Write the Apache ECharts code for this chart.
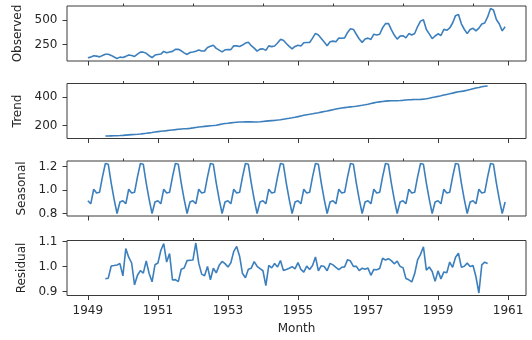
<!DOCTYPE html>
<html>
<head>
<meta charset="utf-8">
<script src="https://cdn.jsdelivr.net/npm/echarts@6/dist/echarts.min.js"></script>
<style>
  html, body { margin: 0; padding: 0; background: #fff; }
  #chart { width: 532px; height: 340px; }
</style>
</head>
<body>
<div id="chart"></div>
<script>
// Monthly airline passengers (thousands), Jan 1949 – Dec 1960
const firstYear = 1949;
const observed = [
  112, 118, 132, 129, 121, 135, 148, 148, 136, 119, 104, 118,
  115, 126, 141, 135, 125, 149, 170, 170, 158, 133, 114, 140,
  145, 150, 178, 163, 172, 178, 199, 199, 184, 162, 146, 166,
  171, 180, 193, 181, 183, 218, 230, 242, 209, 191, 172, 194,
  196, 196, 236, 235, 229, 243, 264, 272, 237, 211, 180, 201,
  204, 188, 235, 227, 234, 264, 302, 293, 259, 229, 203, 229,
  242, 233, 267, 269, 270, 315, 364, 347, 312, 274, 237, 278,
  284, 277, 317, 313, 318, 374, 413, 405, 355, 306, 271, 306,
  315, 301, 356, 348, 355, 422, 465, 467, 404, 347, 305, 336,
  340, 318, 362, 348, 363, 435, 491, 505, 404, 359, 310, 337,
  360, 342, 406, 396, 420, 472, 548, 559, 463, 407, 362, 405,
  417, 391, 419, 461, 472, 535, 622, 606, 508, 461, 390, 432
];

// Centred 2x12 moving average: defined from Jul 1949 to Jun 1960
const trendStart = 6;
const trend = [
  126.792, 127.250, 127.958, 128.583, 129.000, 129.750,
  131.250, 133.083, 134.917, 136.417, 137.417, 138.750, 140.917, 143.167, 145.708, 148.417, 151.542, 154.708,
  157.125, 159.542, 161.833, 164.125, 166.667, 169.083, 171.250, 173.583, 175.458, 176.833, 178.042, 180.167,
  183.125, 186.208, 189.042, 191.292, 193.583, 195.833, 198.042, 199.750, 202.208, 206.250, 210.417, 213.375,
  215.833, 218.500, 220.917, 222.917, 224.083, 224.708, 225.333, 225.333, 224.958, 224.583, 224.458, 225.542,
  228.000, 230.458, 232.250, 233.917, 235.625, 237.750, 240.500, 243.958, 247.167, 250.250, 253.500, 257.125,
  261.833, 266.667, 271.125, 275.208, 278.500, 281.958, 285.750, 289.333, 293.250, 297.167, 301.000, 305.458,
  309.958, 314.417, 318.625, 321.750, 324.500, 327.083, 329.542, 331.833, 334.458, 337.542, 340.542, 344.083,
  348.250, 353.000, 357.625, 361.375, 364.500, 367.167, 369.458, 371.208, 372.167, 372.417, 372.750, 373.625,
  375.250, 377.917, 379.500, 380.000, 380.708, 380.958, 381.833, 383.667, 386.500, 390.333, 394.708, 398.625,
  402.542, 407.167, 411.875, 416.333, 420.500, 425.500, 430.708, 435.125, 437.708, 440.958, 445.833, 450.625,
  456.333, 461.375, 465.208, 469.333, 472.750, 475.042
];

// Multiplicative seasonal factors, Jan..Dec (repeat every year)
const seasonalFactors = [
  0.910230, 0.883625, 1.007366, 0.975906, 0.981378, 1.112776,
  1.226556, 1.219911, 1.060492, 0.921757, 0.801178, 0.898824
];

// Residual component, same span as the trend
const residual = [
  0.9517, 0.9534, 1.0022, 1.0040, 1.0063, 1.0118,
  0.9626, 1.0715, 1.0374, 1.0140, 0.9269, 0.9650, 0.9836, 0.9734, 1.0225, 0.9722, 0.9390, 1.0068,
  1.0138, 1.0640, 1.0919, 1.0177, 1.0516, 0.9460, 0.9474, 0.9398, 0.9889, 0.9939, 1.0235, 1.0251,
  1.0259, 1.0940, 1.0135, 0.9696, 0.9633, 1.0004, 0.9469, 0.9931, 0.9746, 1.0047, 1.0203, 1.0115,
  0.9977, 1.0152, 1.0605, 1.0802, 1.0413, 0.9718, 0.9552, 0.9895, 0.9934, 1.0193, 1.0009, 0.9915,
  0.9830, 0.9232, 1.0044, 0.9944, 1.0119, 0.9979, 1.0238, 0.9845, 0.9881, 0.9928, 0.9995, 0.9909,
  1.0154, 0.9888, 0.9776, 1.0016, 0.9879, 1.0040, 1.0385, 0.9831, 1.0033, 1.0003, 0.9828, 1.0126,
  1.0066, 0.9970, 0.9876, 0.9968, 0.9986, 1.0276, 1.0218, 1.0005, 1.0009, 0.9835, 0.9933, 0.9894,
  0.9937, 0.9650, 0.9882, 0.9868, 0.9924, 1.0329, 1.0261, 1.0313, 1.0236, 1.0109, 1.0213, 1.0005,
  0.9954, 0.9523, 0.9469, 0.9384, 0.9716, 1.0261, 1.0484, 1.0790, 0.9857, 0.9978, 0.9803, 0.9406,
  0.9825, 0.9506, 0.9785, 0.9746, 1.0178, 0.9969, 1.0373, 1.0531, 0.9974, 1.0013, 1.0135, 0.9999,
  1.0039, 0.9591, 0.8941, 1.0065, 1.0174, 1.0121
];

// Axis ticks
const yearTicks = [1949, 1951, 1953, 1955, 1957, 1959, 1961];
const yearMinorTicks = [1950, 1952, 1954, 1956, 1958, 1960];
const panelNames = ['Observed', 'Trend', 'Seasonal', 'Residual'];
const observedTicks = [250, 500];
const trendTicks = [200, 400];
const seasonalTicks = [0.8, 1.0, 1.2];
const residualTicks = [0.9, 1.0, 1.1];

// ---- build series as [decimal year, value] pairs ----
const monthPos = i => firstYear + i / 12;
const observedPts = observed.map((v, i) => [monthPos(i), v]);
const trendPts = trend.map((v, i) => [monthPos(i + trendStart), v]);
const seasonalPts = observed.map((_, i) => [monthPos(i), seasonalFactors[i % 12]]);
const residualPts = residual.map((v, i) => [monthPos(i + trendStart), v]);

const panels = [
  { data: observedPts, ticks: observedTicks, fmt: v => String(v) },
  { data: trendPts, ticks: trendTicks, fmt: v => String(v) },
  { data: seasonalPts, ticks: seasonalTicks, fmt: v => v.toFixed(1) },
  { data: residualPts, ticks: residualTicks, fmt: v => v.toFixed(1) }
];

// 5% padding around the data, shared x range
function padded(lo, hi) { const m = (hi - lo) * 0.05; return [lo - m, hi + m]; }
const [xMin, xMax] = padded(monthPos(0), monthPos(observed.length - 1));

const FONT = 'DejaVu Sans';
const TEXT = '#262626';
const FRAME = '#3a3a3a';
const LINE = '#3c7fbd';
const tops = [6, 83.5, 161, 240.5];
const PANEL_H = 55;

const grid = [], xAxis = [], yAxis = [], series = [];
panels.forEach((p, i) => {
  const vals = p.data.map(d => d[1]);
  const [yMin, yMax] = padded(Math.min(...vals), Math.max(...vals));
  grid.push({ left: 67, right: 6, top: tops[i], height: PANEL_H, show: true,
              borderColor: FRAME, borderWidth: 1, backgroundColor: 'transparent' });
  const last = i === panels.length - 1;
  xAxis.push({
    type: 'value', gridIndex: i, min: xMin, max: xMax,
    axisLine: { show: false }, splitLine: { show: false },
    axisTick: { show: true, length: 4.5, customValues: yearTicks, lineStyle: { color: FRAME } },
    axisLabel: { show: last, customValues: yearTicks, margin: 9, fontSize: 12,
                 fontFamily: FONT, color: TEXT, formatter: v => String(v) },
    name: last ? 'Month' : '', nameLocation: 'middle', nameGap: 27,
    nameTextStyle: { fontSize: 12, fontFamily: FONT, color: TEXT }
  });
  xAxis.push({
    type: 'value', gridIndex: i, min: xMin, max: xMax,
    axisLine: { show: false }, splitLine: { show: false },
    axisTick: { show: true, length: 2.5, customValues: yearMinorTicks, lineStyle: { color: FRAME } },
    axisLabel: { show: false }
  });
  yAxis.push({
    type: 'value', gridIndex: i, min: yMin, max: yMax,
    axisLine: { show: false }, splitLine: { show: false },
    axisTick: { show: true, length: 4.5, customValues: p.ticks, lineStyle: { color: FRAME } },
    axisLabel: { customValues: p.ticks, margin: 9.5, fontSize: 12, fontFamily: FONT,
                 color: TEXT, formatter: p.fmt },
    name: panelNames[i], nameLocation: 'middle', nameRotate: 90, nameGap: 34,
    nameTextStyle: { fontSize: 12, fontFamily: FONT, color: TEXT }
  });
  series.push({
    type: 'line', xAxisIndex: i * 2, yAxisIndex: i, data: p.data,
    showSymbol: false, silent: true,
    lineStyle: { color: LINE, width: 1.6 }
  });
});

const chart = echarts.init(document.getElementById('chart'), null, { renderer: 'canvas' });
chart.setOption({ animation: false, grid, xAxis, yAxis, series });
</script>
</body>
</html>
